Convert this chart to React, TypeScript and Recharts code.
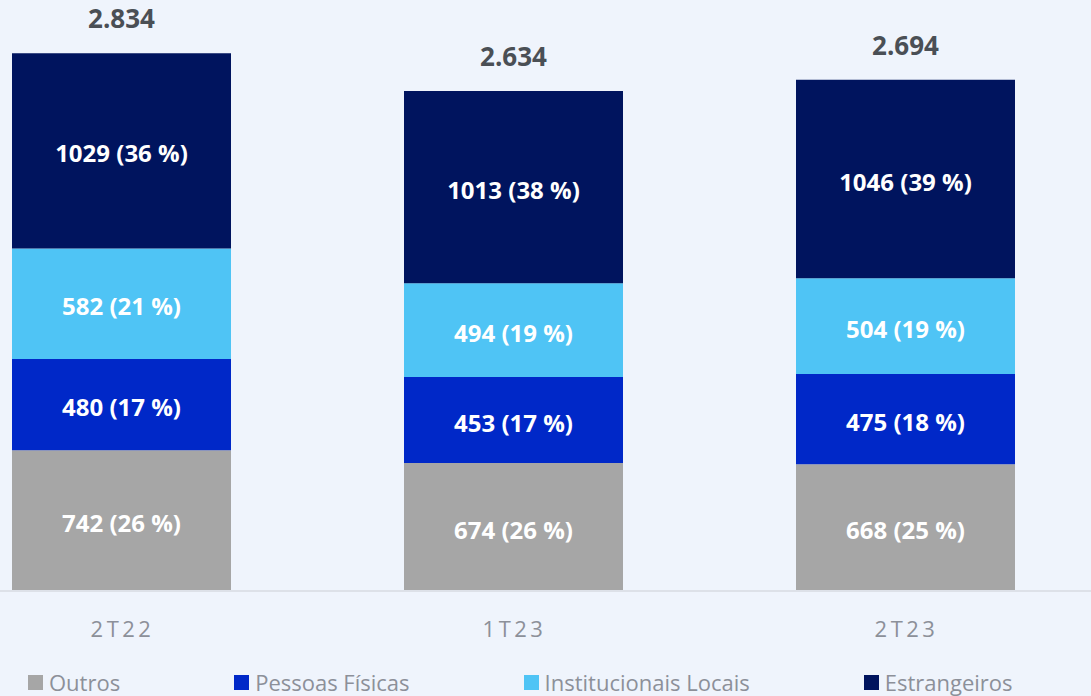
import React from 'react';
import { BarChart, Bar, XAxis, YAxis, LabelList } from 'recharts';

const categories = ['2T22', '1T23', '2T23'];
const outros = [742, 674, 668];
const pessoasFisicas = [480, 453, 475];
const institucionaisLocais = [582, 494, 504];
const estrangeiros = [1029, 1013, 1046];
const outrosPct = [26, 26, 25];
const pessoasPct = [17, 17, 18];
const instPct = [21, 19, 19];
const estrPct = [36, 38, 39];
const totals = [2834, 2634, 2694];

const series = [
  { key: 'outros', name: 'Outros', color: '#A6A6A6', pct: 'outrosPct' },
  { key: 'pessoas', name: 'Pessoas Físicas', color: '#0028C8', pct: 'pessoasPct' },
  { key: 'inst', name: 'Institucionais Locais', color: '#4FC4F5', pct: 'instPct' },
  { key: 'estr', name: 'Estrangeiros', color: '#00145E', pct: 'estrPct' },
];

const data = categories.map((c, i) => ({
  category: c,
  outros: outros[i],
  pessoas: pessoasFisicas[i],
  inst: institucionaisLocais[i],
  estr: estrangeiros[i],
  outrosPct: outrosPct[i],
  pessoasPct: pessoasPct[i],
  instPct: instPct[i],
  estrPct: estrPct[i],
  total: totals[i],
}));

const FONT = '"Open Sans", "Noto Sans", sans-serif';

const fmtThousands = (n: number) => n.toString().replace(/\B(?=(\d{3})+(?!\d))/g, '.');

const makeInnerLabel = (pctKey: string) => (props: any) => {
  const { x, y, width, height, value, index } = props;
  const pct = (data[index] as any)[pctKey];
  return (
    <text
      x={Number(x) + Number(width) / 2}
      y={Number(y) + Number(height) / 2 + 2}
      textAnchor="middle"
      dominantBaseline="central"
      fill="#FFFFFF"
      fontFamily={FONT}
      fontWeight={700}
      fontSize={24}
    >
      {`${value} (${pct} %)`}
    </text>
  );
};

const TotalLabel = (props: any) => {
  const { x, y, width, index } = props;
  return (
    <text
      x={Number(x) + Number(width) / 2}
      y={Number(y) - 35}
      textAnchor="middle"
      dominantBaseline="central"
      fill="#4A4F55"
      fontFamily={FONT}
      fontWeight={700}
      fontSize={26}
    >
      {fmtThousands(data[index].total)}
    </text>
  );
};

const Tick = (props: any) => {
  const { x, y, payload } = props;
  return (
    <text
      x={x + 1.5}
      y={y + 37}
      textAnchor="middle"
      dominantBaseline="central"
      fill="#8C9099"
      fontFamily={FONT}
      fontSize={22}
      letterSpacing={3.5}
    >
      {payload.value}
    </text>
  );
};

const LegendBlock = () => (
  <div
    style={{
      position: 'absolute',
      left: 28,
      top: 670,
      display: 'flex',
      alignItems: 'center',
      fontFamily: FONT,
      fontSize: 22,
      color: '#8C9099',
      whiteSpace: 'nowrap',
    }}
  >
    {series.map((s, i) => (
      <div key={s.key} style={{ display: 'flex', alignItems: 'center', marginRight: i < series.length - 1 ? 114 : 0 }}>
        <span style={{ display: 'inline-block', width: 15, height: 15, background: s.color, marginRight: 6 }} />
        <span style={{ lineHeight: '24px' }}>{s.name}</span>
      </div>
    ))}
  </div>
);

export default function App() {
  return (
    <div
      style={{
        position: 'absolute',
        left: 0,
        top: 0,
        width: 1091,
        height: 696,
        overflow: 'hidden',
        background: '#EFF4FC',
      }}
    >
      <div style={{ position: 'absolute', left: -75.5, top: 0 }}>
        <BarChart
          width={1176}
          height={696}
          data={data}
          margin={{ top: 21.5, right: 0, bottom: 75, left: 0 }}
          barCategoryGap={0}
        >
          <XAxis
            dataKey="category"
            height={30}
            axisLine={{ stroke: '#DDE1E8', strokeWidth: 2 }}
            tickLine={false}
            tickSize={0}
            tickMargin={0}
            tick={<Tick />}
            interval={0}
          />
          <YAxis hide domain={[0, 3000]} />
          {series.map((s, i) => (
            <Bar
              key={s.key}
              dataKey={s.key}
              name={s.name}
              stackId="a"
              fill={s.color}
              barSize={219}
              isAnimationActive={false}
            >
              <LabelList dataKey={s.key} content={makeInnerLabel(s.pct)} />
              {i === series.length - 1 && <LabelList dataKey={s.key} content={<TotalLabel />} />}
            </Bar>
          ))}
        </BarChart>
      </div>
      <LegendBlock />
    </div>
  );
}
